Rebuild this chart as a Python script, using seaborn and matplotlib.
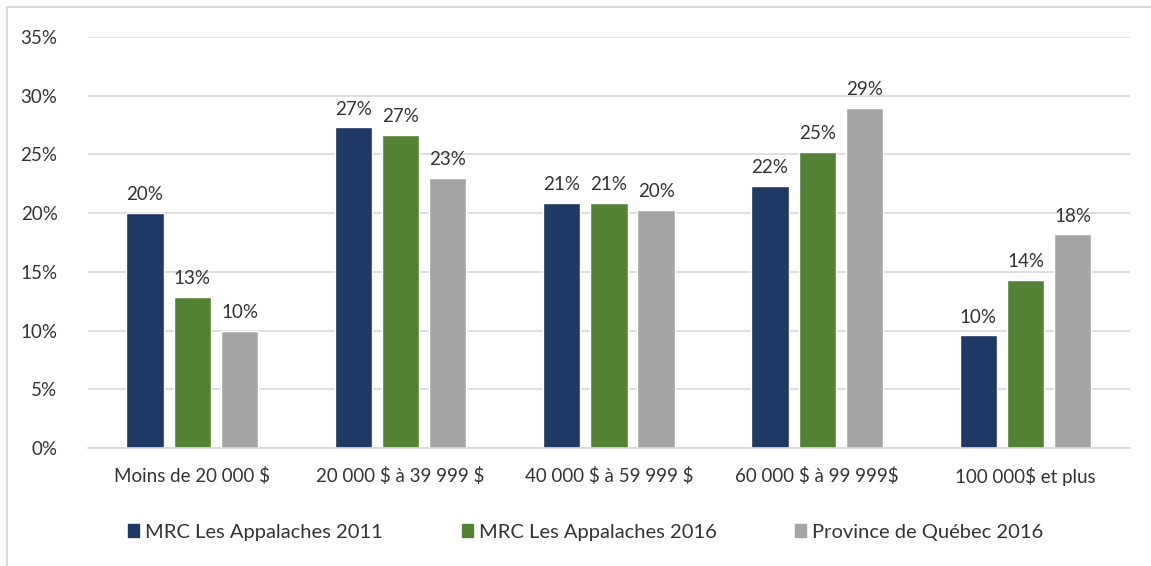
import matplotlib.pyplot as plt
import matplotlib.patches as mpatches
import pandas as pd
import seaborn as sns
from matplotlib.ticker import PercentFormatter

# income brackets and share of households (%)
categories = ['Moins de 20 000 $', '20 000 $ à 39 999 $', '40 000 $ à 59 999 $',
              '60 000 $ à 99 999$', '100 000$ et plus']
mrc_2011 = [20.0, 27.3, 20.9, 22.3, 9.6]
mrc_2016 = [12.9, 26.7, 20.9, 25.2, 14.3]
quebec_2016 = [10.0, 23.0, 20.3, 29.0, 18.2]
series = ['MRC Les Appalaches 2011', 'MRC Les Appalaches 2016', 'Province de Québec 2016']
colors = ['#203864', '#548235', '#A5A5A5']

df = pd.DataFrame({
    'tranche': categories * 3,
    'serie': [series[0]] * 5 + [series[1]] * 5 + [series[2]] * 5,
    'pct': mrc_2011 + mrc_2016 + quebec_2016,
})

sns.set_style('white')
plt.rcParams['font.family'] = ['Lato', 'DejaVu Sans']
plt.rcParams['text.parse_math'] = False

fig = plt.figure(figsize=(11.51, 5.66), dpi=100)
ax = fig.add_axes([0.0765, 0.2085, 0.905, 0.726])

sns.barplot(data=df, x='tranche', y='pct', hue='serie', palette=colors,
            saturation=1, width=0.68, gap=0.21, ax=ax, legend=True)

for cont in ax.containers:
    ax.bar_label(cont, labels=[f'{v:.0f}%' for v in cont.datavalues],
                 padding=7, fontsize=13.5, color='#333333')

ax.set_ylim(0, 35)
ax.set_yticks(range(0, 36, 5))
ax.yaxis.set_major_formatter(PercentFormatter(decimals=0))
ax.set_xlim(-0.5, 4.5)
ax.grid(axis='y', color='#D9D9D9', linewidth=1.2)
ax.set_axisbelow(True)
for s in ['top', 'right', 'left']:
    ax.spines[s].set_visible(False)
ax.spines['bottom'].set_color('#D9D9D9')
ax.spines['bottom'].set_linewidth(1.2)
ax.tick_params(axis='both', length=0, labelsize=13.5, colors='#333333')
ax.tick_params(axis='x', pad=14)
ax.tick_params(axis='y', pad=22)
ax.set_xlabel('')
ax.set_ylabel('')

handles = [mpatches.Patch(color=c) for c in colors]
ax.legend(handles, series, loc='upper center', bbox_to_anchor=(0.478, -0.14),
          ncol=3, frameon=False, fontsize=14.5, handlelength=0.55,
          handleheight=0.55, handletextpad=0.3, columnspacing=3.9,
          labelcolor='#333333')

fig.patches.append(mpatches.Rectangle((0.006, -0.01), 1.0, 0.997,
                                      transform=fig.transFigure, fill=False,
                                      edgecolor='#D9D9D9', linewidth=1.5))

fig.savefig('out.png', dpi=100)
